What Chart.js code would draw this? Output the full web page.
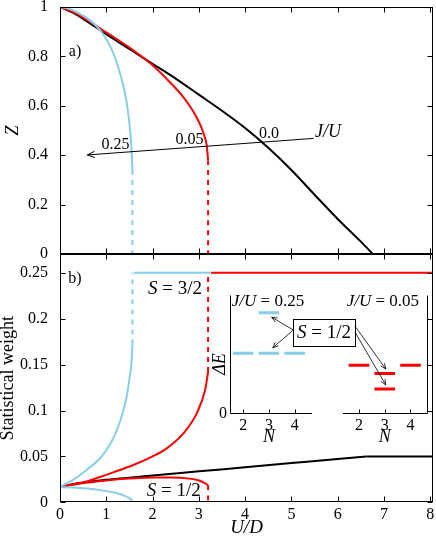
<!DOCTYPE html>
<html>
<head>
<meta charset="utf-8">
<script src="https://cdn.jsdelivr.net/npm/chart.js@4.4.1/dist/chart.umd.min.js"></script>
<style>
  html, body { margin: 0; padding: 0; background: #fff; }
  #wrap { position: relative; width: 436px; height: 539px; overflow: hidden; }
  canvas { position: absolute; }
</style>
</head>
<body>
<div id="wrap">
  <canvas id="top" width="436" height="262" style="left:0;top:0"></canvas>
  <canvas id="bottom" width="436" height="299" style="left:0;top:240px"></canvas>
  <canvas id="inset" width="236" height="160" style="left:200px;top:285px"></canvas>
</div>
<script>
const SERIF = "'Liberation Serif', 'Times New Roman', serif";
const BLUE = "#87ceeb";
const RED = "#ff0000";
const DASH = [5, 5];

// axis ticks
const uTicks = [0, 1, 2, 3, 4, 5, 6, 7, 8];
const zTicks = [0, 0.2, 0.4, 0.6, 0.8, 1];
const wTicks = [0, 0.05, 0.1, 0.15, 0.2, 0.25];

// a) Z vs U/D, J/U = 0
const zU_0 = [0, 0.3, 0.6, 1.0, 1.5, 2.0, 2.5, 3.0, 3.5, 4.0, 4.5, 5.0, 5.5, 6.0, 6.5, 6.76];
const z_0 = [1, 0.975, 0.94, 0.89, 0.83, 0.77, 0.71, 0.645, 0.58, 0.51, 0.43, 0.34, 0.24, 0.142, 0.05, 0];
const zU_0ins = [6.76, 7.45];
const z_0ins = [0, 0];
// J/U = 0.05
const zU_005 = [0, 0.3, 0.6, 1.0, 1.5, 2.0, 2.3, 2.6, 2.8, 2.95, 3.05, 3.12, 3.17, 3.2];
const z_005 = [1, 0.978, 0.946, 0.897, 0.836, 0.764, 0.71, 0.65, 0.6, 0.554, 0.515, 0.478, 0.44, 0.38];
// J/U = 0.25
const zU_025 = [0, 0.2, 0.4, 0.6, 0.8, 0.95, 1.1, 1.2, 1.3, 1.4, 1.47, 1.52, 1.55, 1.565];
const z_025 = [1, 0.993, 0.975, 0.953, 0.92, 0.885, 0.835, 0.79, 0.73, 0.655, 0.575, 0.49, 0.41, 0.34];
// jumps to the insulator
const zJumpU_005 = [3.2, 3.2];
const zJump_005 = [0.38, 0];
const zJumpU_025 = [1.565, 1.565];
const zJump_025 = [0.34, 0];

// b) statistical weights
const wU_0 = [0, 0.25, 0.5, 1, 2, 3, 4, 5, 6, 6.62];
const w_0 = [0.017, 0.0195, 0.0215, 0.0245, 0.0292, 0.0337, 0.0382, 0.0427, 0.0472, 0.05];
const wU_0ins = [6.62, 8.06];
const w_0ins = [0.05, 0.05];
const wU_up005 = [0, 0.5, 0.865, 1.2, 1.585, 2.0, 2.307, 2.666, 2.955, 3.135, 3.2];
const w_up005 = [0.017, 0.0215, 0.0275, 0.0335, 0.0406, 0.05, 0.0588, 0.0751, 0.0969, 0.1223, 0.142];
const wU_lo005 = [0, 0.3, 0.6, 1.0, 1.5, 2.0, 2.4, 2.8, 3.0, 3.12, 3.2];
const w_lo005 = [0.017, 0.0195, 0.0215, 0.0238, 0.0258, 0.0269, 0.0271, 0.0258, 0.0238, 0.0212, 0.0185];
const wU_up025 = [0, 0.3, 0.58, 0.865, 1.08, 1.225, 1.37, 1.44, 1.51, 1.55, 1.565];
const w_up025 = [0.017, 0.025, 0.0355, 0.048, 0.063, 0.078, 0.1, 0.115, 0.138, 0.155, 0.172];
const wU_lo025 = [0, 0.3, 0.58, 0.9, 1.15, 1.35, 1.5, 1.565];
const w_lo025 = [0.0165, 0.0162, 0.015, 0.013, 0.0109, 0.008, 0.0045, 0.0014];
// S = 3/2 plateau
const wU_pl025 = [1.6, 3.26];
const w_pl025 = [0.25, 0.25];
const wU_pl005 = [3.26, 8.06];
const w_pl005 = [0.25, 0.25];
const wJumpU_025 = [1.565, 1.565];
const wJump_025 = [0.172, 0.25];
const wJumpU_005 = [3.2, 3.2];
const wJump_005 = [0.142, 0.25];
const wJumpLoU_005 = [3.2, 3.2];
const wJumpLo_005 = [0.0185, 0];

// inset: energy levels vs N
const insetN = [2, 3, 4];
const lvlN_025 = [2, 3, 4, 3];
const lvlE_025 = [0.51, 0.51, 0.51, 0.85];
const lvlN_005 = [2, 4, 3, 3];
const lvlE_005 = [0.41, 0.41, 0.34, 0.21];
const SHIFT = 4.5; // right inset panel offset on the shared axis

const pts = (xs, ys) => xs.map((x, i) => ({ x, y: ys[i] }));

function line(data, color, dash, order) {
  return {
    data, borderColor: color, borderWidth: 2, borderDash: dash || [],
    pointRadius: 0, fill: false, cubicInterpolationMode: "monotone", order
  };
}

function levels(ns, es, shift, color) {
  const data = [];
  ns.forEach((n, i) => {
    data.push({ x: n + shift - 0.4, y: es[i] }, { x: n + shift + 0.4, y: es[i] }, { x: n + shift, y: null });
  });
  return { data, borderColor: color, borderWidth: 3, pointRadius: 0, fill: false, tension: 0 };
}

function zeroPad(s) {
  s.paddingTop = 0; s.paddingBottom = 0; s.paddingLeft = 0; s.paddingRight = 0;
}

function rich(ctx, parts, x, y, size, align) {
  const fonts = parts.map(p => (p[1] ? "italic " : "") + size + "px " + SERIF);
  let w = 0;
  parts.forEach((p, i) => { ctx.font = fonts[i]; w += ctx.measureText(p[0]).width; });
  let cx = align === "center" ? x - w / 2 : align === "right" ? x - w : x;
  ctx.textAlign = "left";
  ctx.textBaseline = "middle";
  ctx.fillStyle = "#000";
  parts.forEach((p, i) => { ctx.font = fonts[i]; ctx.fillText(p[0], cx, y); cx += ctx.measureText(p[0]).width; });
}

function arrow(ctx, x1, y1, x2, y2, head) {
  ctx.beginPath(); ctx.moveTo(x1, y1); ctx.lineTo(x2, y2); ctx.stroke();
  const a = Math.atan2(y2 - y1, x2 - x1);
  ctx.beginPath();
  ctx.moveTo(x2 - head * Math.cos(a - 0.4), y2 - head * Math.sin(a - 0.4));
  ctx.lineTo(x2, y2);
  ctx.lineTo(x2 - head * Math.cos(a + 0.4), y2 - head * Math.sin(a + 0.4));
  ctx.stroke();
}

function frame(xt, yt) {
  return {
    id: "frame",
    afterDraw(chart) {
      const { ctx, chartArea: a, scales: { x, y } } = chart;
      ctx.save();
      ctx.strokeStyle = "#000";
      ctx.lineWidth = 1;
      const L = Math.round(a.left) + 0.5, R = Math.round(a.right) - 0.5;
      const T = Math.round(a.top) + 0.5, B = Math.round(a.bottom) - 0.5;
      ctx.strokeRect(L, T, R - L, B - T);
      ctx.beginPath();
      xt.forEach(v => {
        const px = Math.round(x.getPixelForValue(v)) + 0.5;
        ctx.moveTo(px, B); ctx.lineTo(px, B - 5);
        ctx.moveTo(px, T); ctx.lineTo(px, T + 5);
      });
      yt.forEach(v => {
        const py = Math.round(y.getPixelForValue(v)) + 0.5;
        ctx.moveTo(L, py); ctx.lineTo(L + 5, py);
        ctx.moveTo(R, py); ctx.lineTo(R - 5, py);
      });
      ctx.stroke();
      ctx.restore();
    }
  };
}

const noGrid = { display: false, drawTicks: false };
const tickFont = { family: SERIF, size: 16 };

function uAxis(showTicks, height) {
  return {
    type: "linear", min: 0, max: 8.06,
    grid: noGrid, border: { display: false },
    afterBuildTicks: s => { s.ticks = uTicks.map(v => ({ value: v })); },
    ticks: { display: showTicks, padding: 3, color: "#000", font: tickFont, callback: v => String(v) },
    title: { display: showTicks, text: "U/D", color: "#000", padding: { top: 0, bottom: 0 },
             font: { family: SERIF, size: 19, style: "italic" } },
    afterFit: s => { s.height = height; zeroPad(s); }
  };
}

function valAxis(max, list, title, italic, tpad) {
  return {
    type: "linear", min: 0, max,
    grid: noGrid, border: { display: false },
    afterBuildTicks: s => { s.ticks = list.map(v => ({ value: v })); },
    ticks: { padding: 12, color: "#000", font: tickFont, callback: v => String(v) },
    title: { display: true, text: title, color: "#000", padding: { top: tpad, bottom: 0 },
             font: { family: SERIF, size: 18, style: italic ? "italic" : "normal" } },
    afterFit: s => { s.width = 60; zeroPad(s); }
  };
}

const common = {
  responsive: false, animation: false, events: [],
  plugins: { legend: { display: false }, tooltip: { enabled: false } }
};

const annotA = {
  id: "annotA",
  afterDraw(chart) {
    const { ctx, scales: { x, y } } = chart;
    ctx.save();
    ctx.strokeStyle = "#000";
    ctx.lineWidth = 1;
    arrow(ctx, x.getPixelForValue(5.48), y.getPixelForValue(0.468), x.getPixelForValue(0.59), y.getPixelForValue(0.401), 8);
    rich(ctx, [["J/U", true]], x.getPixelForValue(5.51), y.getPixelForValue(0.494), 18, "left");
    rich(ctx, [["0.25", false]], x.getPixelForValue(1.2), y.getPixelForValue(0.442), 16, "center");
    rich(ctx, [["0.05", false]], x.getPixelForValue(2.8), y.getPixelForValue(0.463), 16, "center");
    rich(ctx, [["0.0", false]], x.getPixelForValue(4.515), y.getPixelForValue(0.485), 16, "center");
    rich(ctx, [["a)", false]], x.getPixelForValue(0.324), y.getPixelForValue(0.819), 16, "center");
    ctx.restore();
  }
};

const annotB = {
  id: "annotB",
  afterDraw(chart) {
    const { ctx, scales: { x, y } } = chart;
    ctx.save();
    rich(ctx, [["b)", false]], x.getPixelForValue(0.324), y.getPixelForValue(0.243), 16, "center");
    rich(ctx, [["S", true], [" = 3/2", false]], x.getPixelForValue(2.486), y.getPixelForValue(0.232), 19, "center");
    rich(ctx, [["S", true], [" = 1/2", false]], x.getPixelForValue(2.46), y.getPixelForValue(0.0123), 19, "center");
    ctx.restore();
  }
};

new Chart(document.getElementById("top"), {
  type: "line",
  data: {
    datasets: [
      line(pts(zU_0, z_0), "#000", null, 2),
      line(pts(zU_0ins, z_0ins), "#000", null, 2),
      line(pts(zU_005, z_005), RED, null, 1),
      line(pts(zJumpU_005, zJump_005), RED, DASH, 1),
      line(pts(zU_025, z_025), BLUE, null, 0),
      line(pts(zJumpU_025, zJump_025), BLUE, DASH, 0)
    ]
  },
  options: {
    ...common,
    layout: { padding: { left: 0, right: 3, top: 7, bottom: 0 } },
    scales: { x: uAxis(false, 8), y: valAxis(1, zTicks, "Z", true, 2) }
  },
  plugins: [frame(uTicks, zTicks), annotA]
});

new Chart(document.getElementById("bottom"), {
  type: "line",
  data: {
    datasets: [
      line(pts(wU_0, w_0), "#000", null, 2),
      line(pts(wU_0ins, w_0ins), "#000", null, 2),
      line(pts(wU_up005, w_up005), RED, null, 1),
      line(pts(wU_lo005, w_lo005), RED, null, 1),
      line(pts(wU_pl005, w_pl005), RED, null, 1),
      line(pts(wJumpU_005, wJump_005), RED, DASH, 1),
      line(pts(wJumpLoU_005, wJumpLo_005), RED, DASH, 1),
      line(pts(wU_up025, w_up025), BLUE, null, 0),
      line(pts(wU_lo025, w_lo025), BLUE, null, 0),
      line(pts(wU_pl025, w_pl025), BLUE, null, 0),
      line(pts(wJumpU_025, wJump_025), BLUE, DASH, 0)
    ]
  },
  options: {
    ...common,
    layout: { padding: { left: 0, right: 3, top: 14, bottom: 0 } },
    scales: { x: uAxis(true, 36.7), y: valAxis(0.2705, wTicks, "Statistical weight", false, -3) }
  },
  plugins: [frame(uTicks, wTicks), annotB]
});

const insetDeco = {
  id: "insetDeco",
  afterDraw(chart) {
    const { ctx, chartArea: a, scales: { x, y } } = chart;
    ctx.save();
    ctx.strokeStyle = "#000";
    ctx.lineWidth = 1;
    const L = Math.round(a.left) + 0.5, R = Math.round(a.right) - 0.5;
    const T = Math.round(a.top) + 0.5, B = Math.round(a.bottom) - 0.5;
    ctx.beginPath();
    ctx.moveTo(L, T); ctx.lineTo(L, B); ctx.lineTo(Math.round(x.getPixelForValue(4.66)), B);
    ctx.moveTo(Math.round(x.getPixelForValue(5.89)), B); ctx.lineTo(R, B); ctx.lineTo(R, T);
    insetN.forEach(n => {
      [n, n + SHIFT].forEach(v => {
        const px = Math.round(x.getPixelForValue(v)) + 0.5;
        ctx.moveTo(px, B); ctx.lineTo(px, B - 4);
      });
    });
    ctx.stroke();

    // axis labels
    rich(ctx, [["N", true]], x.getPixelForValue(3), B + 24, 18, "center");
    rich(ctx, [["N", true]], x.getPixelForValue(3 + SHIFT), B + 24, 18, "center");
    ctx.save();
    ctx.translate(L - 10, y.getPixelForValue(0.42));
    ctx.rotate(-Math.PI / 2);
    rich(ctx, [["ΔE", true]], 0, 0, 18, "center");
    ctx.restore();

    rich(ctx, [["J/U", true], [" = 0.25", false]], x.getPixelForValue(1.56), y.getPixelForValue(0.944), 17, "left");
    rich(ctx, [["J/U", true], [" = 0.05", false]], x.getPixelForValue(6.02), y.getPixelForValue(0.944), 17, "left");

    // S = 1/2 box with arrows
    const bx1 = x.getPixelForValue(3.95), bx2 = x.getPixelForValue(6.34);
    const by1 = y.getPixelForValue(0.796), by2 = y.getPixelForValue(0.566);
    ctx.fillStyle = "#fff";
    ctx.fillRect(bx1, by1, bx2 - bx1, by2 - by1);
    ctx.strokeRect(Math.round(bx1) + 0.5, Math.round(by1) + 0.5, Math.round(bx2 - bx1), Math.round(by2 - by1));
    rich(ctx, [["S", true], [" = 1/2", false]], (bx1 + bx2) / 2, (by1 + by2) / 2, 19, "center");
    ctx.lineWidth = 0.8;
    arrow(ctx, bx1, y.getPixelForValue(0.706), x.getPixelForValue(3.11), y.getPixelForValue(0.813), 6);
    arrow(ctx, bx1, y.getPixelForValue(0.706), x.getPixelForValue(3.15), y.getPixelForValue(0.557), 6);
    arrow(ctx, bx2, y.getPixelForValue(0.74), x.getPixelForValue(7.54), y.getPixelForValue(0.378), 6);
    arrow(ctx, bx2, y.getPixelForValue(0.69), x.getPixelForValue(7.54), y.getPixelForValue(0.244), 6);
    ctx.restore();
  }
};

new Chart(document.getElementById("inset"), {
  type: "line",
  data: {
    datasets: [
      levels(lvlN_025, lvlE_025, 0, BLUE),
      levels(lvlN_005, lvlE_005, SHIFT, RED)
    ]
  },
  options: {
    ...common,
    layout: { padding: { left: 0, right: 8, top: 10, bottom: 0 } },
    scales: {
      x: {
        type: "linear", min: 1.49, max: 9.18,
        grid: noGrid, border: { display: false },
        afterBuildTicks: s => { s.ticks = insetN.concat(insetN.map(n => n + SHIFT)).map(v => ({ value: v })); },
        ticks: { padding: 2, color: "#000", font: tickFont, callback: v => String(v > 5 ? v - SHIFT : v) },
        afterFit: s => { s.height = 31; zeroPad(s); }
      },
      y: {
        type: "linear", min: 0, max: 1,
        grid: noGrid, border: { display: false },
        afterBuildTicks: s => { s.ticks = [{ value: 0 }]; },
        ticks: { padding: 3, color: "#000", font: tickFont, callback: v => String(v) },
        afterFit: s => { s.width = 30; zeroPad(s); }
      }
    }
  },
  plugins: [insetDeco]
});
</script>
</body>
</html>
